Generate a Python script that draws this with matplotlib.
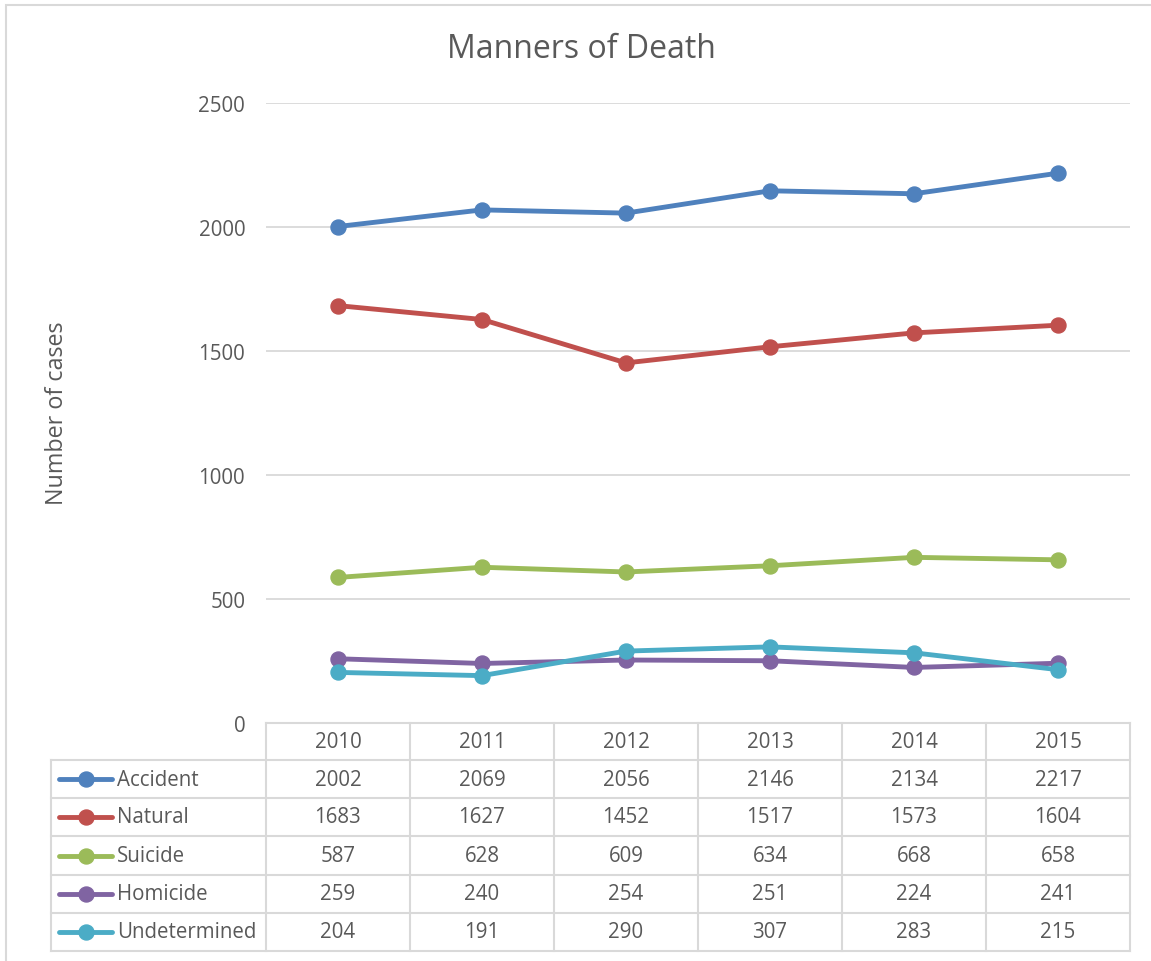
import matplotlib
matplotlib.use("Agg")
import matplotlib.pyplot as plt
from matplotlib.lines import Line2D
from matplotlib.patches import Rectangle

years = ["2010", "2011", "2012", "2013", "2014", "2015"]
series_names = ["Accident", "Natural", "Suicide", "Homicide", "Undetermined"]
accident = [2002, 2069, 2056, 2146, 2134, 2217]
natural = [1683, 1627, 1452, 1517, 1573, 1604]
suicide = [587, 628, 609, 634, 668, 658]
homicide = [259, 240, 254, 251, 224, 241]
undetermined = [204, 191, 290, 307, 283, 215]
yticks = [0, 500, 1000, 1500, 2000, 2500]

values = [accident, natural, suicide, homicide, undetermined]
colors = ["#4F81BD", "#C0504D", "#9BBB59", "#8064A2", "#4BACC6"]

W, H = 1151, 962
plt.rcParams['font.family'] = ['Open Sans', 'DejaVu Sans']
txt = "#595959"
grid_c = "#D9D9D9"
fs = 14.8

fig = plt.figure(figsize=(W / 100, H / 100), dpi=100)

def fx(px):
    return px / W

def fy(py):
    return 1 - py / H

# outer border
fig.patches.append(Rectangle((fx(6), fy(1000)), fx(1200), fy(6) - fy(1000),
                             transform=fig.transFigure, fill=False,
                             edgecolor=grid_c, linewidth=1.5))

ax_l, ax_r, ax_t, ax_b = 266, 1130, 104, 724
ax = fig.add_axes([fx(ax_l), fy(ax_b), fx(ax_r - ax_l), fy(ax_t) - fy(ax_b)])
x = list(range(len(years)))
for name, vals, c in zip(series_names, values, colors):
    ax.plot(x, vals, color=c, linewidth=3.5, marker='o', markersize=10.8,
            solid_capstyle='round', zorder=3)
ax.set_xlim(-0.5, len(years) - 0.5)
ax.set_ylim(0, 2500)
ax.set_yticks(yticks)
ax.set_yticklabels([str(v) for v in yticks], fontsize=fs, color=txt)
ax.tick_params(axis='y', length=0, pad=22)
for lab in ax.get_yticklabels():
    pass
ax.set_xticks([])
ax.grid(axis='y', color=grid_c, linewidth=1.3)
for s in ax.spines.values():
    s.set_visible(False)
ax.set_axisbelow(True)
ax.tick_params(axis='y', pad=15)

fig.text(fx(581), fy(50), "Manners of Death", fontsize=23, color=txt,
         ha='center', va='center')
fig.text(fx(57), fy(413), "Number of cases", fontsize=16.8, color=txt,
         rotation=90, ha='center', va='center')

# table
row_y = [724, 761, 799, 837, 876, 914, 952]
col_x = [266 + 144 * i for i in range(len(years) + 1)]
left_x = 51

def hline(y, x0, x1):
    fig.add_artist(Line2D([fx(x0), fx(x1)], [fy(y), fy(y)], color=grid_c,
                          linewidth=1.5, transform=fig.transFigure))

def vline(xp, y0, y1):
    fig.add_artist(Line2D([fx(xp), fx(xp)], [fy(y0), fy(y1)], color=grid_c,
                          linewidth=1.5, transform=fig.transFigure))

hline(row_y[0], col_x[0], col_x[-1])
for yy in row_y[1:]:
    hline(yy, left_x, col_x[-1])
vline(left_x, row_y[1], row_y[-1])
for xx in col_x:
    vline(xx, row_y[0], row_y[-1])

for j, yr in enumerate(years):
    cx = (col_x[j] + col_x[j + 1]) / 2
    cy = (row_y[0] + row_y[1]) / 2
    fig.text(fx(cx), fy(cy), yr, fontsize=fs, color=txt, ha='center', va='center')

for i, (name, vals, c) in enumerate(zip(series_names, values, colors)):
    cy = (row_y[i + 1] + row_y[i + 2]) / 2
    fig.add_artist(Line2D([fx(59), fx(112)], [fy(cy), fy(cy)], color=c,
                          linewidth=3.5, solid_capstyle='round',
                          transform=fig.transFigure))
    fig.add_artist(Line2D([fx(85.5)], [fy(cy)], color=c, marker='o',
                          markersize=10.8, linestyle='none',
                          transform=fig.transFigure))
    fig.text(fx(117), fy(cy), name, fontsize=fs, color=txt, ha='left', va='center')
    for j, v in enumerate(vals):
        cx = (col_x[j] + col_x[j + 1]) / 2
        fig.text(fx(cx), fy(cy), str(v), fontsize=fs, color=txt,
                 ha='center', va='center')

fig.savefig("out.png", dpi=100, facecolor='white')
